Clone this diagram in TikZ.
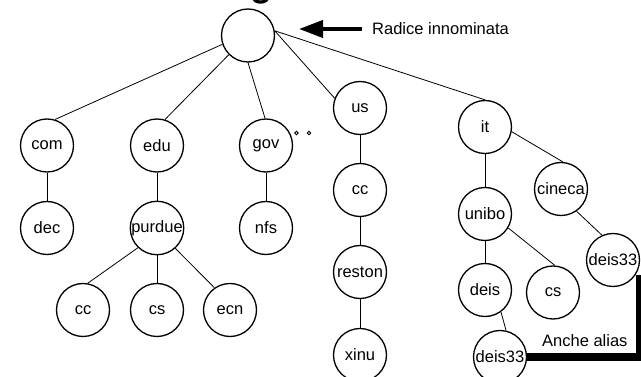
\documentclass[tikz,border=0pt]{standalone}
\usepackage{fontspec}
\setmainfont{Liberation Sans}
\usetikzlibrary{arrows.meta}
\begin{document}
\begin{tikzpicture}[x=1pt,y=-1pt,
  every node/.style={font=\fontsize{16.5}{19}\selectfont},
  dom/.style={circle,draw,line width=1.3pt,minimum size=53pt,inner sep=0pt},
  link/.style={line width=0.8pt},
  smalldot/.style={circle,draw,line width=0.8pt,minimum size=3.6pt,inner sep=0pt},
  aliasline/.style={line width=8pt,line join=miter}]
\useasboundingbox (0,0) rectangle (641,377);

% title (runs off the top edge)
\node[font=\bfseries\fontsize{36}{40}\selectfont,anchor=base,inner sep=0pt] (title) at (261,-3) {g};

% root
\node[dom] (root) at (248,35.5) {};

% com / edu / gov subtrees
\node[dom] (com)    at (47,145.5) {com};
\node[dom] (dec)    at (47,228)   {dec};
\node[dom] (edu)    at (157,145.5) {edu};
\node[dom] (purdue) at (157,228)  {purdue};
\node[dom] (pcc)    at (83,310)   {cc};
\node[dom] (pcs)    at (157,310)  {cs};
\node[dom] (pecn)   at (230,310)  {ecn};
\node[dom] (gov)    at (266,145.5) {gov};
\node[dom] (nfs)    at (266,228)  {nfs};
\node[smalldot] (dotA) at (296.5,133) {};
\node[smalldot] (dotB) at (309,133) {};

% us subtree
\node[dom] (us)     at (360,108) {us};
\node[dom] (uscc)   at (360,190) {cc};
\node[dom] (reston) at (360,272) {reston};
\node[dom] (xinu)   at (360,355) {xinu};

% it subtree
\node[dom] (it)     at (485,127) {it};
\node[dom] (unibo)  at (485,214) {unibo};
\node[dom] (cineca) at (561,189) {cineca};
\node[dom] (deis)   at (485,290) {deis};
\node[dom] (itcs)   at (553,292.5) {cs};
\node[dom] (deisB)  at (613,260) {deis33};
\node[dom] (deisA)  at (500,357) {deis33};

% links
\draw[link] (root.199) -- (com.73);
\draw[link] (root.225) -- (edu.73);
\draw[link] (root.270) -- (gov.92);
\draw[link] (root.10)  -- (us.159);
\draw[link] (root.10)  -- (it.90);
\draw[link] (com) -- (dec);
\draw[link] (edu) -- (purdue);
\draw[link] (gov) -- (nfs);
\draw[link] (purdue.226) -- (pcc.80);
\draw[link] (purdue) -- (pcs);
\draw[link] (purdue.312) -- (pecn.125);
\draw[link] (us) -- (uscc);
\draw[link] (uscc) -- (reston);
\draw[link] (reston) -- (xinu);
\draw[link] (it) -- (unibo);
\draw[link] (it.350) -- (cineca.86);
\draw[link] (unibo) -- (deis);
\draw[link] (unibo.329) -- (itcs.86);
\draw[link] (cineca.305) -- (deisB.114);
\draw[link] (deis.306) -- (deisA.77);

% root label with arrow
\node[anchor=base west,inner sep=0pt] (rootlbl) at (372,34.5) {Radice innominata};
\coordinate (rootarrow) at (299,29);
\draw[line width=4pt,-{Triangle[length=24pt,width=17pt]}] (rootlbl.west |- rootarrow) ++(-10,0) -- (rootarrow);

% alias link between the two deis33 nodes
\draw[aliasline] ([xshift=4pt]deisB.-33) |- (deisA.east);
\node[anchor=base west,inner sep=0pt] (aliaslbl) at (542,347) {Anche alias};
\end{tikzpicture}
\end{document}
